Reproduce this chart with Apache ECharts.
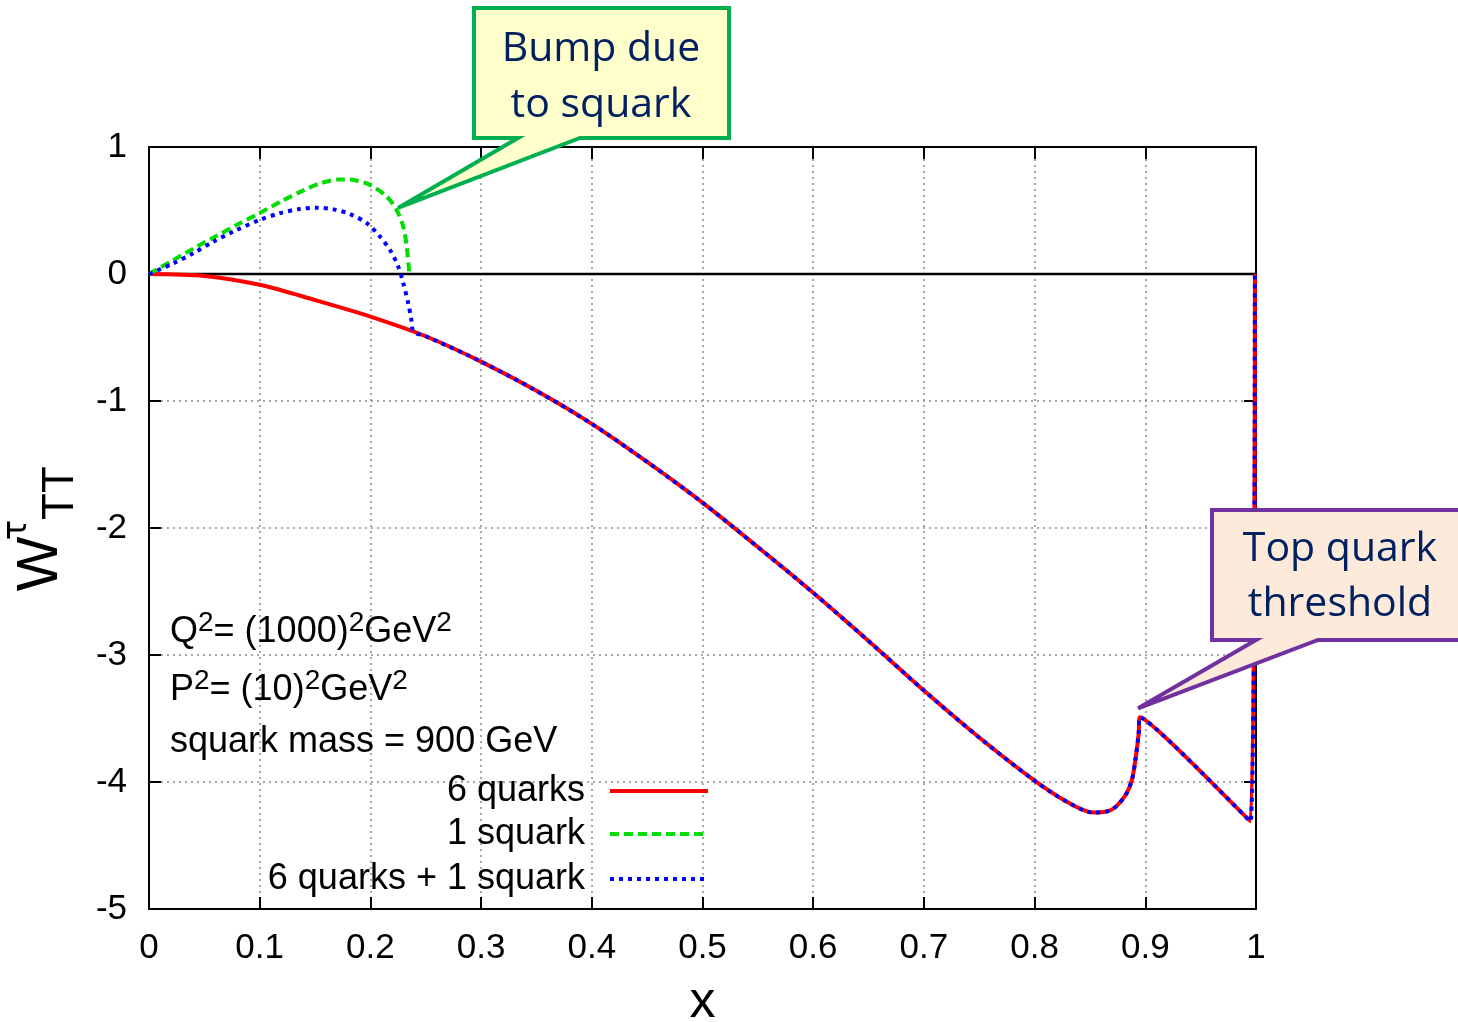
<!DOCTYPE html>
<html>
<head>
<meta charset="utf-8">
<script src="https://cdn.jsdelivr.net/npm/echarts@6/dist/echarts.min.js"></script>
<style>
  html, body { margin: 0; padding: 0; background: #fff; overflow: hidden; }
  #chart { width: 1458px; height: 1022px; }
</style>
</head>
<body>
<div id="chart"></div>
<script>
// ---- data ----
const xTickLabels = ['0', '0.1', '0.2', '0.3', '0.4', '0.5', '0.6', '0.7', '0.8', '0.9', '1'];
const yTickLabels = ['-5', '-4', '-3', '-2', '-1', '0', '1'];

const seriesNames = ['6 quarks', '1 squark', '6 quarks + 1 squark'];

// 6 quarks (red, solid)
const quarksX = [0, 0.05, 0.1, 0.15, 0.2, 0.25, 0.3, 0.35, 0.4, 0.45, 0.5, 0.55, 0.6, 0.65, 0.7, 0.75, 0.8, 0.83, 0.853, 0.866, 0.874, 0.883, 0.888, 0.891, 0.894, 0.895, 0.995, 0.999];
const quarksY = [0, -0.015, -0.085, -0.205, -0.335, -0.49, -0.69, -0.92, -1.18, -1.48, -1.80, -2.15, -2.51, -2.89, -3.28, -3.65, -3.99, -4.16, -4.24, -4.23, -4.19, -4.09, -3.98, -3.83, -3.62, -3.49, -4.31, 0];

// 1 squark (green, dashed)
const squarkX = [0, 0.02, 0.04, 0.06, 0.08, 0.1, 0.12, 0.14, 0.155, 0.1725, 0.185, 0.2, 0.2147, 0.2237, 0.2297, 0.2328, 0.2352];
const squarkY = [0, 0.1, 0.2, 0.295, 0.39, 0.48, 0.575, 0.66, 0.715, 0.745, 0.74, 0.70, 0.61, 0.504, 0.372, 0.215, 0.0];

// 6 quarks + 1 squark (blue, dotted)
const sumX = [0, 0.022, 0.04, 0.058, 0.076, 0.0997, 0.118, 0.136, 0.1515, 0.1665, 0.1816, 0.1967, 0.2087, 0.2177, 0.2252, 0.2297, 0.2342, 0.2373, 0.2388, 0.25, 0.3, 0.35, 0.4, 0.45, 0.5, 0.55, 0.6, 0.65, 0.7, 0.75, 0.8, 0.83, 0.853, 0.866, 0.874, 0.883, 0.888, 0.891, 0.894, 0.895, 0.995, 0.999];
const sumY = [0, 0.084, 0.163, 0.254, 0.333, 0.425, 0.478, 0.512, 0.522, 0.509, 0.472, 0.40, 0.294, 0.189, 0.058, -0.073, -0.231, -0.376, -0.454, -0.49, -0.69, -0.92, -1.18, -1.48, -1.80, -2.15, -2.51, -2.89, -3.28, -3.65, -3.99, -4.16, -4.24, -4.23, -4.19, -4.09, -3.98, -3.83, -3.62, -3.49, -4.31, 0];

const zeroX = [0, 1];
const zeroY = [0, 0];

// callout anchor points (data coordinates)
const bumpTip = [0.225, 0.52];
const topTip = [0.8935, -3.42];

// ---- chart ----
function zip(xs, ys) { return xs.map((x, i) => [x, ys[i]]); }

const AX = '"Liberation Sans", Arial, sans-serif';
const CALLOUT = '"Open Sans", "Noto Sans", sans-serif';

const colors = { red: '#ff0000', green: '#00dd00', blue: '#0000ff' };

const chart = echarts.init(document.getElementById('chart'), null, { renderer: 'canvas' });

const gridStyle = { show: true, lineStyle: { color: '#8a8a8a', width: 1.5, type: [2, 4] } };
const tickStyle = { show: true, inside: true, length: 12, lineStyle: { color: '#000', width: 2 } };
const frameLine = { show: true, onZero: false, lineStyle: { color: '#000', width: 2 } };

function legendFor(i, top, ls) {
  return {
    show: true, orient: 'vertical', align: 'right', right: 748, top: top, padding: 0,
    itemWidth: 98, itemHeight: 14, selectedMode: false,
    textStyle: { fontFamily: AX, fontSize: 36, color: '#000', padding: [0, 20, 0, 0] },
    data: [{ name: seriesNames[i], lineStyle: ls, itemStyle: { opacity: 0 } }]
  };
}

const option = {
  animation: false,
  backgroundColor: '#fff',
  grid: { left: 149, top: 147, width: 1107, height: 762, containLabel: false, outerBoundsMode: 'none' },
  xAxis: [
    {
      type: 'value', position: 'bottom', min: 0, max: 1, interval: 0.1,
      axisLine: frameLine, axisTick: tickStyle, splitLine: gridStyle,
      axisLabel: {
        show: true, margin: 22, fontFamily: AX, fontSize: 35, color: '#000',
        formatter: v => xTickLabels[Math.round(v * 10)]
      },
      name: 'x', nameLocation: 'middle', nameGap: 68,
      nameTextStyle: { fontFamily: AX, fontSize: 52, color: '#000' }
    },
    {
      type: 'value', position: 'top', min: 0, max: 1, interval: 0.1,
      axisLine: frameLine, axisTick: tickStyle, splitLine: { show: false },
      axisLabel: { show: false }
    }
  ],
  yAxis: [
    {
      type: 'value', position: 'left', min: -5, max: 1, interval: 1,
      axisLine: frameLine, axisTick: tickStyle, splitLine: gridStyle,
      axisLabel: {
        show: true, margin: 22, fontFamily: AX, fontSize: 35, color: '#000',
        formatter: v => yTickLabels[Math.round(v) + 5]
      }
    },
    {
      type: 'value', position: 'right', min: -5, max: 1, interval: 1,
      axisLine: frameLine, axisTick: tickStyle, splitLine: { show: false },
      axisLabel: { show: false }
    }
  ],
  legend: [
    legendFor(0, 773, { color: colors.red, width: 4, type: 'solid' }),
    legendFor(1, 816, { color: colors.green, width: 4, type: [9, 5] }),
    legendFor(2, 861, { color: colors.blue, width: 4, type: [4, 5] })
  ],
  series: [
    {
      name: 'zero', type: 'line', data: zip(zeroX, zeroY), symbol: 'none', silent: true,
      lineStyle: { color: '#000', width: 2.5 }, z: 1
    },
    {
      name: seriesNames[0], type: 'line', data: zip(quarksX, quarksY), symbol: 'none', showSymbol: false,
      smooth: 0.3,
      lineStyle: { color: colors.red, width: 4, type: 'solid' }, itemStyle: { color: colors.red }, z: 2
    },
    {
      name: seriesNames[1], type: 'line', data: zip(squarkX, squarkY), symbol: 'none', showSymbol: false,
      smooth: 0.3,
      lineStyle: { color: colors.green, width: 4, type: [9, 5] }, itemStyle: { color: colors.green }, z: 3
    },
    {
      name: seriesNames[2], type: 'line', data: zip(sumX, sumY), symbol: 'none', showSymbol: false,
      smooth: 0.3,
      lineStyle: { color: colors.blue, width: 4, type: [4, 5] }, itemStyle: { color: colors.blue }, z: 4
    }
  ]
};

chart.setOption(option);

// ---- annotations (graphic layer) ----
const bt = chart.convertToPixel({ gridIndex: 0 }, bumpTip);
const tt = chart.convertToPixel({ gridIndex: 0 }, topTip);

function sup(t) { return '{s|' + t + '}'; }
const richMain = {
  m: { fontFamily: AX, fontSize: 36, color: '#000' },
  s: { fontFamily: AX, fontSize: 28, color: '#000', verticalAlign: 'top', lineHeight: 46 }
};

function calloutText(x, y, t) {
  return { type: 'text', z: 101, x: x, y: y, style: { text: t, font: '41px ' + CALLOUT, fill: '#002060', align: 'center', verticalAlign: 'middle' } };
}
function rotText(x, y, t, font) {
  return { type: 'text', x: x, y: y, rotation: Math.PI / 2, style: { text: t, font: font, fill: '#000', align: 'center', verticalAlign: 'middle' } };
}

chart.setOption({
  graphic: [
    // Bump due to squark callout
    {
      type: 'polygon', z: 100,
      shape: { points: [[474, 8], [729, 8], [729, 138], [580, 138], bt, [518, 138], [474, 138]] },
      style: { fill: '#ffffcc', stroke: '#00b050', lineWidth: 4, lineJoin: 'miter' }
    },
    calloutText(601, 49, 'Bump due'),
    calloutText(601, 105, 'to squark'),
    // Top quark threshold callout
    {
      type: 'polygon', z: 100,
      shape: { points: [[1212, 510], [1475, 510], [1475, 640], [1318, 640], tt, [1256, 640], [1212, 640]] },
      style: { fill: '#fdeada', stroke: '#7030a0', lineWidth: 4, lineJoin: 'miter' }
    },
    calloutText(1340, 549, 'Top quark'),
    calloutText(1340, 604, 'threshold'),
    // y-axis title W^tau_TT (rotated pieces)
    rotText(41, 564, 'W', '58px ' + AX),
    rotText(17, 530, 'τ', '34px "DejaVu Sans", sans-serif'),
    rotText(61, 493, 'TT', '44px ' + AX),
    // parameter labels
    {
      type: 'text', x: 170, y: 632, z: 50,
      style: { text: '{m|Q}' + sup('2') + '{m|= (1000)}' + sup('2') + '{m|GeV}' + sup('2'), rich: richMain, verticalAlign: 'middle' }
    },
    {
      type: 'text', x: 170, y: 690, z: 50,
      style: { text: '{m|P}' + sup('2') + '{m|= (10)}' + sup('2') + '{m|GeV}' + sup('2'), rich: richMain, verticalAlign: 'middle' }
    },
    {
      type: 'text', x: 170, y: 742, z: 50,
      style: { text: 'squark mass = 900 GeV', font: '36px ' + AX, fill: '#000', verticalAlign: 'middle' }
    }
  ]
});
</script>
</body>
</html>
